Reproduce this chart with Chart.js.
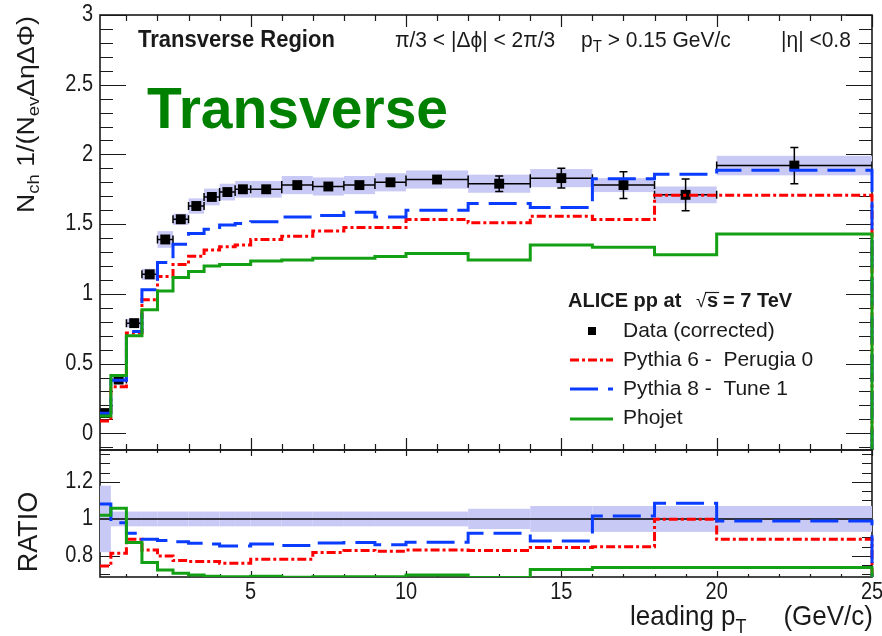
<!DOCTYPE html>
<html>
<head>
<meta charset="utf-8">
<script src="https://cdn.jsdelivr.net/npm/chart.js@4.4.0/dist/chart.umd.min.js"></script>
<style>
  body { margin: 0; background: #fff; }
  #wrap { position: relative; width: 882px; height: 636px; overflow: hidden; background: #fff; }
  canvas { position: absolute; left: 0; }
  #main { top: 0; }
  #ratio { top: 440px; }
</style>
</head>
<body>
<div id="wrap">
  <canvas id="main" width="882" height="460"></canvas>
  <canvas id="ratio" width="882" height="196"></canvas>
</div>
<script>
// leading pT bins (GeV/c)
let binLo = [0.15, 0.5, 1, 1.5, 2, 2.5, 3, 3.5, 4, 4.5, 5, 6, 7, 8, 9, 10, 12, 14, 16, 18, 20];
let binHi = [0.5, 1, 1.5, 2, 2.5, 3, 3.5, 4, 4.5, 5, 6, 7, 8, 9, 10, 12, 14, 16, 18, 20, 25];
let binCenter = [0.325, 0.75, 1.25, 1.75, 2.25, 2.75, 3.25, 3.75, 4.25, 4.75, 5.5, 6.5, 7.5, 8.5, 9.5, 11, 13, 15, 17, 19, 22.5];

// data (corrected) with stat and syst errors
let dataY = [0.145, 0.385, 0.79, 1.14, 1.39, 1.535, 1.63, 1.695, 1.73, 1.75, 1.75, 1.78, 1.77, 1.78, 1.80, 1.82, 1.79, 1.83, 1.78, 1.71, 1.92];
let dataStat = [0.005, 0.005, 0.01, 0.01, 0.012, 0.012, 0.012, 0.012, 0.013, 0.015, 0.013, 0.015, 0.016, 0.018, 0.02, 0.025, 0.056, 0.071, 0.096, 0.114, 0.13];
let dataSys = [0.01, 0.02, 0.03, 0.04, 0.06, 0.04, 0.055, 0.06, 0.06, 0.06, 0.06, 0.065, 0.065, 0.065, 0.065, 0.065, 0.065, 0.065, 0.05, 0.06, 0.07];

// MC predictions
let perugia0 = [0.088, 0.334, 0.72, 0.957, 1.124, 1.21, 1.27, 1.314, 1.338, 1.35, 1.39, 1.414, 1.45, 1.476, 1.476, 1.533, 1.51, 1.557, 1.533, 1.707, 1.707];
let tune1 = [0.143, 0.38, 0.73, 1.03, 1.224, 1.355, 1.433, 1.464, 1.493, 1.505, 1.517, 1.552, 1.562, 1.586, 1.552, 1.60, 1.648, 1.619, 1.826, 1.857, 1.886];
let phojet = [0.124, 0.414, 0.70, 0.886, 1.02, 1.117, 1.16, 1.20, 1.21, 1.21, 1.236, 1.243, 1.255, 1.255, 1.267, 1.29, 1.243, 1.35, 1.335, 1.28, 1.43];

// ratio MC / data
let ratioSys = [0.18, 0.04, 0.04, 0.04, 0.04, 0.04, 0.04, 0.04, 0.04, 0.04, 0.04, 0.04, 0.04, 0.04, 0.04, 0.04, 0.055, 0.07, 0.07, 0.07, 0.07];
let perugia0Ratio = [0.746, 0.815, 0.89, 0.832, 0.80, 0.775, 0.77, 0.77, 0.76, 0.76, 0.782, 0.782, 0.818, 0.829, 0.825, 0.832, 0.829, 0.845, 0.85, 0.998, 0.89];
let tune1Ratio = [1.081, 0.98, 0.923, 0.89, 0.883, 0.877, 0.868, 0.865, 0.854, 0.854, 0.865, 0.856, 0.87, 0.872, 0.86, 0.874, 0.923, 0.881, 1.016, 1.085, 0.989];
let phojetRatio = [1.02, 1.058, 0.872, 0.764, 0.724, 0.706, 0.697, 0.69, 0.688, 0.688, 0.69, 0.685, 0.688, 0.688, 0.688, 0.697, 0.683, 0.726, 0.737, 0.737, 0.737];

// axis tick labels
let yTicksMain = [0, 0.5, 1, 1.5, 2, 2.5, 3];
let yTicksRatio = [0.8, 1, 1.2];
let xTicks = [5, 10, 15, 20, 25];

const FONT = '"Liberation Sans", Arial, sans-serif';
const INK = '#1a1a1a';
const BAND = '#c9c9f6';
const RED = '#ff0000';
const BLUE = '#0a3cff';
const GREEN = '#14a014';
const SY = 1.15;

function stepPoints(values) {
  const end = binHi[binHi.length - 1];
  const pts = binLo.map((lo, i) => ({x: lo, y: values[i]}));
  pts.push({x: end, y: values[values.length - 1]});
  pts.push({x: end, y: -1});
  return pts;
}

function histSet(label, values, color, dash) {
  return {
    label: label,
    data: stepPoints(values),
    borderColor: color,
    borderWidth: 3,
    borderDash: dash,
    borderCapStyle: 'butt',
    stepped: true,
    pointRadius: 0,
    fill: false,
    clip: {left: 0, top: 0, right: 3, bottom: 0},
  };
}

// draws runs of text pieces, returns end x
function rich(ctx, parts, x, y, o) {
  o = o || {};
  ctx.save();
  ctx.translate(x, y);
  if (o.rot) ctx.rotate(o.rot);
  ctx.scale(o.sx || 1, o.sy || 1);
  ctx.fillStyle = o.color || INK;
  ctx.textBaseline = 'alphabetic';
  ctx.textAlign = 'left';
  let cx = 0;
  if (o.align === 'right' || o.align === 'center') {
    let w = 0;
    parts.forEach(p => { ctx.font = (p.bold ? 'bold ' : '') + p.size + 'px ' + FONT; w += ctx.measureText(p.t).width; });
    cx = o.align === 'right' ? -w : -w / 2;
  }
  parts.forEach(p => {
    ctx.font = (p.bold ? 'bold ' : '') + p.size + 'px ' + FONT;
    ctx.fillText(p.t, cx, p.dy || 0);
    cx += ctx.measureText(p.t).width;
  });
  ctx.restore();
  return x + cx * (o.sx || 1);
}

function label(ctx, s, x, y, size, align, baseline) {
  ctx.save();
  ctx.translate(x, y);
  ctx.scale(1, SY);
  ctx.font = size + 'px ' + FONT;
  ctx.fillStyle = INK;
  ctx.textAlign = align;
  ctx.textBaseline = baseline;
  ctx.fillText(s, 0, 0);
  ctx.restore();
}

function ticksOn(min, max, step) {
  const out = [];
  for (let k = Math.ceil(min / step - 1e-9); k * step <= max + 1e-9; k++) out.push(k * step);
  return out;
}

function isMajor(v, step) {
  return Math.abs(v / step - Math.round(v / step)) < 1e-6;
}

// frame with inward ticks on all four sides
function drawFrame(chart, t) {
  const {ctx, chartArea: a, scales: {x, y}} = chart;
  ctx.save();
  ctx.strokeStyle = INK;
  ctx.lineWidth = 1.2;
  ctx.beginPath();
  ticksOn(y.min, y.max, t.yMinor).forEach(v => {
    const py = Math.round(y.getPixelForValue(v)) + 0.5;
    const len = isMajor(v, t.yMajor) ? t.yLen[0] : t.yLen[1];
    ctx.moveTo(a.left, py); ctx.lineTo(a.left + len, py);
    ctx.moveTo(a.right, py); ctx.lineTo(a.right - len, py);
  });
  ticksOn(x.min, x.max, t.xMinor).forEach(v => {
    const px = Math.round(x.getPixelForValue(v)) + 0.5;
    const len = isMajor(v, t.xMajor) ? t.xLen[0] : t.xLen[1];
    ctx.moveTo(px, a.top); ctx.lineTo(px, a.top + len);
    ctx.moveTo(px, a.bottom); ctx.lineTo(px, a.bottom - len);
  });
  ctx.stroke();
  ctx.lineWidth = 1.6;
  ctx.strokeRect(a.left, a.top, a.right - a.left, a.bottom - a.top);
  ctx.restore();
}

function clipArea(ctx, a) {
  ctx.beginPath();
  ctx.rect(a.left, a.top, a.right - a.left, a.bottom - a.top);
  ctx.clip();
}

const mainDecor = {
  id: 'mainDecor',
  beforeDatasetsDraw(chart) {
    const {ctx, chartArea: a, scales: {x, y}} = chart;
    drawFrame(chart, {xMinor: 1, xMajor: 5, xLen: [12, 6], yMinor: 0.1, yMajor: 0.5, yLen: [26, 13]});
    ctx.save();
    clipArea(ctx, a);
    // systematic uncertainty boxes
    ctx.fillStyle = BAND;
    binLo.forEach((lo, i) => {
      const l = x.getPixelForValue(lo), r = x.getPixelForValue(binHi[i]);
      const t = y.getPixelForValue(dataY[i] + dataSys[i]), b = y.getPixelForValue(dataY[i] - dataSys[i]);
      ctx.fillRect(l, t, r - l, b - t);
    });
    // statistical errors and bin widths
    ctx.strokeStyle = '#000';
    ctx.lineWidth = 1.5;
    ctx.beginPath();
    binLo.forEach((lo, i) => {
      const l = x.getPixelForValue(lo), r = x.getPixelForValue(binHi[i]);
      const c = x.getPixelForValue(binCenter[i]);
      const py = y.getPixelForValue(dataY[i]);
      ctx.moveTo(l, py); ctx.lineTo(r, py);
      ctx.moveTo(l, py - 4); ctx.lineTo(l, py + 4);
      ctx.moveTo(r, py - 4); ctx.lineTo(r, py + 4);
      const t = y.getPixelForValue(dataY[i] + dataStat[i]), b = y.getPixelForValue(dataY[i] - dataStat[i]);
      if (b - t > 10) {
        ctx.moveTo(c, t); ctx.lineTo(c, b);
        ctx.moveTo(c - 4, t); ctx.lineTo(c + 4, t);
        ctx.moveTo(c - 4, b); ctx.lineTo(c + 4, b);
      }
    });
    ctx.stroke();
    ctx.restore();
  },
  afterDraw(chart) {
    const {ctx, chartArea: a, scales: {y}} = chart;
    yTicksMain.forEach(v => label(ctx, String(v), 93, y.getPixelForValue(v), 20, 'right', 'middle'));

    // y axis title
    rich(ctx, [
      {t: 'N', size: 23},
      {t: 'ch', size: 16, dy: 5},
      {t: ' 1/(N', size: 23},
      {t: 'ev', size: 16, dy: 5},
      {t: '\u0394\u03b7\u0394\u03a6)', size: 23},
    ], 34, 213, {rot: -Math.PI / 2, sx: 1.16});

    // region header
    rich(ctx, [{t: 'Transverse Region', size: 22, bold: true}], 138, 47, {sy: 1.05});
    rich(ctx, [{t: '\u03c0/3 < |\u0394\u03d5| < 2\u03c0/3', size: 21}], 395, 47, {sy: 1.08});
    rich(ctx, [{t: 'p', size: 21}, {t: 'T', size: 15, dy: 5}, {t: ' > 0.15 GeV/c', size: 21}], 581, 47, {sy: 1.08});
    rich(ctx, [{t: '|\u03b7| <0.8', size: 21}], 781, 47, {sy: 1.08});

    rich(ctx, [{t: 'Transverse', size: 57, bold: true}], 147, 128, {color: '#008000'});

    // legend
    rich(ctx, [{t: 'ALICE pp at', size: 20, bold: true}], 568, 307);
    rich(ctx, [{t: '\u221a', size: 19}], 696, 307);
    const sEnd = rich(ctx, [{t: 's', size: 20, bold: true}], 707, 307);
    ctx.save();
    ctx.strokeStyle = INK; ctx.lineWidth = 1.2;
    ctx.beginPath(); ctx.moveTo(705, 292.5); ctx.lineTo(sEnd + 1, 292.5); ctx.stroke();
    ctx.restore();
    rich(ctx, [{t: '= 7 TeV', size: 20, bold: true}], 723, 307);

    ctx.save();
    ctx.fillStyle = '#000';
    ctx.fillRect(588, 327, 8, 8);
    ctx.lineWidth = 3;
    ctx.lineCap = 'butt';
    [[RED, [9, 3, 3, 3], 360], [BLUE, [28, 10], 389], [GREEN, [], 419]].forEach(s => {
      ctx.strokeStyle = s[0];
      ctx.setLineDash(s[1]);
      ctx.beginPath(); ctx.moveTo(570, s[2]); ctx.lineTo(613, s[2]); ctx.stroke();
    });
    ctx.restore();
    rich(ctx, [{t: 'Data (corrected)', size: 21}], 623, 337);
    rich(ctx, [{t: 'Pythia 6 -  Perugia 0', size: 21}], 623, 366);
    rich(ctx, [{t: 'Pythia 8 -  Tune 1', size: 21}], 623, 395);
    rich(ctx, [{t: 'Phojet', size: 21}], 623, 424);
  }
};

const ratioDecor = {
  id: 'ratioDecor',
  beforeDatasetsDraw(chart) {
    const {ctx, chartArea: a, scales: {x, y}} = chart;
    drawFrame(chart, {xMinor: 1, xMajor: 5, xLen: [6, 3], yMinor: 0.05, yMajor: 0.2, yLen: [20, 10]});
    ctx.save();
    clipArea(ctx, a);
    ctx.fillStyle = BAND;
    binLo.forEach((lo, i) => {
      const l = x.getPixelForValue(lo), r = x.getPixelForValue(binHi[i]);
      const t = y.getPixelForValue(1 + ratioSys[i]), b = y.getPixelForValue(1 - ratioSys[i]);
      ctx.fillRect(l, t, r - l, b - t);
    });
    ctx.strokeStyle = '#000';
    ctx.lineWidth = 1.5;
    const p1 = y.getPixelForValue(1);
    ctx.beginPath(); ctx.moveTo(a.left, p1); ctx.lineTo(a.right, p1); ctx.stroke();
    ctx.restore();
  },
  afterDraw(chart) {
    const {ctx, chartArea: a, scales: {x, y}} = chart;
    yTicksRatio.forEach(v => label(ctx, String(v), 93, y.getPixelForValue(v), 20, 'right', 'middle'));
    xTicks.forEach(v => label(ctx, String(v), x.getPixelForValue(v), a.bottom + 16, 20, 'center', 'middle'));
    rich(ctx, [{t: 'RATIO', size: 27}], 37, 92, {rot: -Math.PI / 2, align: 'center'});
    rich(ctx, [{t: 'leading p', size: 26}, {t: 'T', size: 18, dy: 7}], 630, 185, {sy: 1.08});
    rich(ctx, [{t: '(GeV/c)', size: 26}], 873, 185, {sy: 1.08, align: 'right'});
  }
};

function baseOptions(padding, yMin, yMax) {
  return {
    responsive: false,
    animation: false,
    events: [],
    layout: {padding: padding},
    plugins: {legend: {display: false}, tooltip: {enabled: false}},
    scales: {
      x: {type: 'linear', min: 0.15, max: 25, display: false},
      y: {type: 'linear', min: yMin, max: yMax, display: false},
    },
  };
}

new Chart(document.getElementById('main'), {
  type: 'line',
  data: {
    datasets: [
      histSet('Phojet', phojet, GREEN, []),
      histSet('Pythia 8 -  Tune 1', tune1, BLUE, [28, 10]),
      histSet('Pythia 6 -  Perugia 0', perugia0, RED, [9, 3, 3, 3]),
      {
        label: 'Data (corrected)',
        data: binCenter.map((c, i) => ({x: c, y: dataY[i]})),
        showLine: false,
        pointStyle: 'rect',
        pointRadius: 7,
        pointBackgroundColor: '#000',
        pointBorderWidth: 0,
        borderColor: '#000',
      },
    ],
  },
  options: baseOptions({left: 100, top: 15, right: 10, bottom: 10}, -0.12, 3),
  plugins: [mainDecor],
});

new Chart(document.getElementById('ratio'), {
  type: 'line',
  data: {
    datasets: [
      histSet('Phojet', phojetRatio, GREEN, []),
      histSet('Pythia 8 -  Tune 1', tune1Ratio, BLUE, [28, 10]),
      histSet('Pythia 6 -  Perugia 0', perugia0Ratio, RED, [9, 3, 3, 3]),
    ],
  },
  options: baseOptions({left: 100, top: 10, right: 10, bottom: 59}, 0.686, 1.373),
  plugins: [ratioDecor],
});
</script>
</body>
</html>
